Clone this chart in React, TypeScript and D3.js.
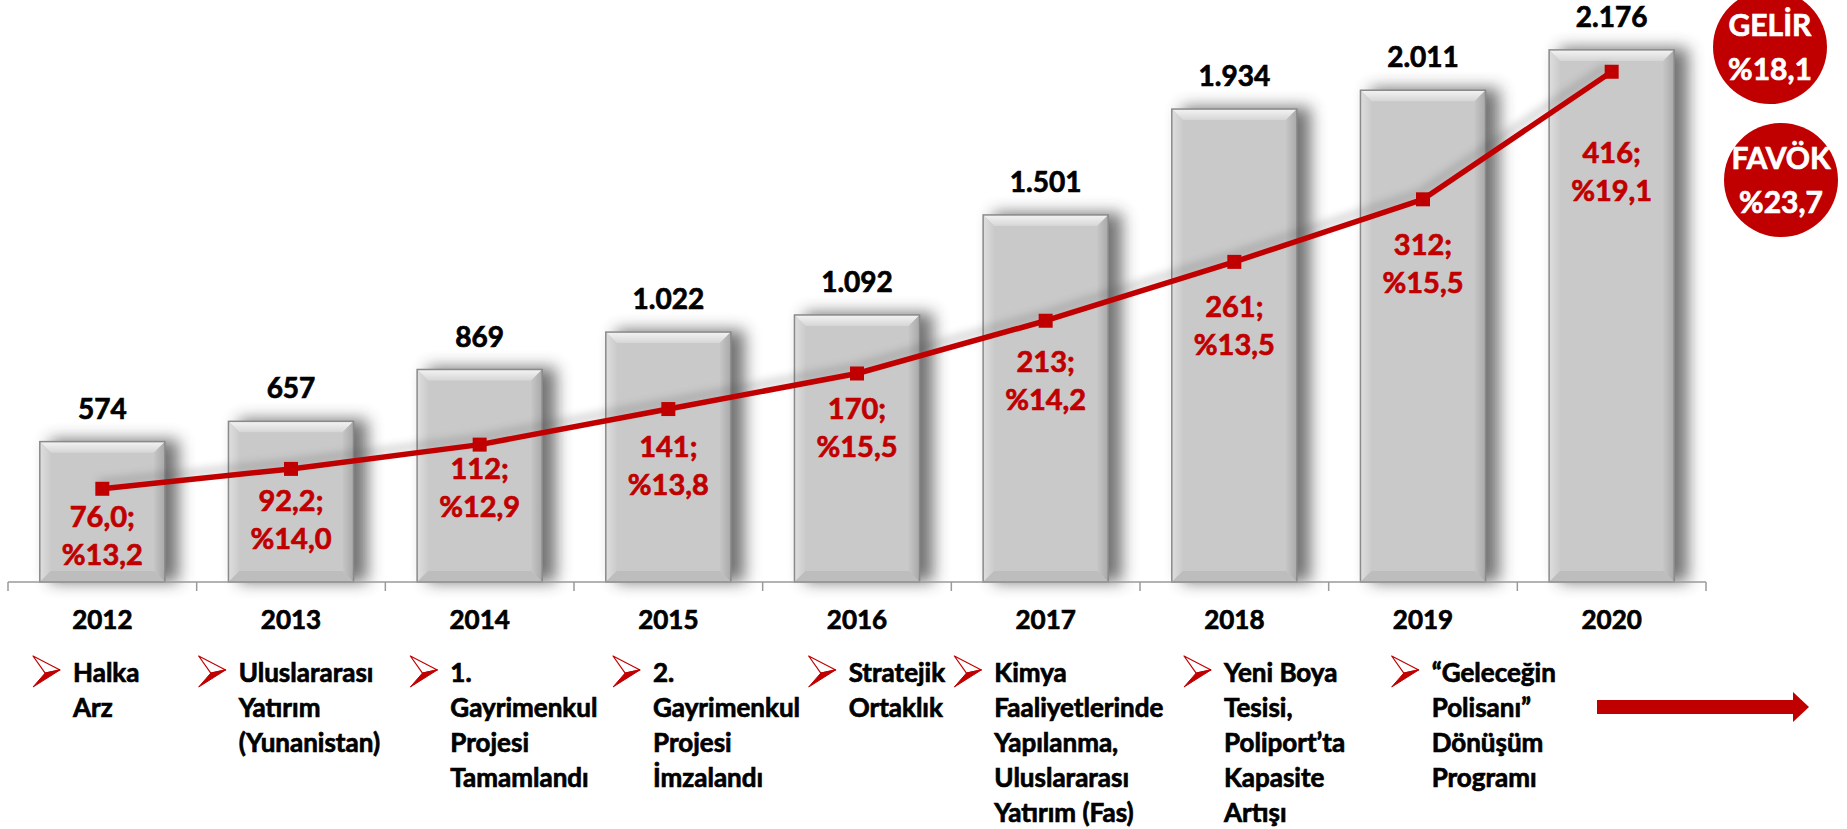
import * as d3 from 'd3';

// chart values
const years = ['2012', '2013', '2014', '2015', '2016', '2017', '2018', '2019', '2020'];
const revenue = [574, 657, 869, 1022, 1092, 1501, 1934, 2011, 2176];
const ebitda = [76.0, 92.2, 112, 141, 170, 213, 261, 312, 416];
const ebitdaMargin = [13.2, 14.0, 12.9, 13.8, 15.5, 14.2, 13.5, 15.5, 19.1];

const events = [
  ['Halka', 'Arz'],
  ['Uluslararası', 'Yatırım', '(Yunanistan)'],
  ['1.', 'Gayrimenkul', 'Projesi', 'Tamamlandı'],
  ['2.', 'Gayrimenkul', 'Projesi', 'İmzalandı'],
  ['Stratejik', 'Ortaklık'],
  ['Kimya', 'Faaliyetlerinde', 'Yapılanma,', 'Uluslararası', 'Yatırım (Fas)'],
  ['Yeni Boya', 'Tesisi,', 'Poliport’ta', 'Kapasite', 'Artışı'],
  ['“Geleceğin', 'Polisanı”', 'Dönüşüm', 'Programı'],
];

const badges = [
  { title: 'GELİR', value: '%18,1' },
  { title: 'FAVÖK', value: '%23,7' },
];

// layout
const W = 1847;
const H = 829;
const axisY = 582;
const RED = '#c00000';
const FONT = 'Lato, "Open Sans", sans-serif';
const WEIGHT = 700;
// label nudges below each marker (hand placed in the original)
const labelDy = [28, 32, 24, 38, 35, 41, 45, 45, 81];
// event text offsets from band start
const eventDx = [25, 2, 25, 39, 46, 3, 44, 63];

const x = d3.scaleBand<string>()
  .domain(years)
  .range([8, 1706])
  .paddingInner(0.337)
  .paddingOuter(0.1685);

const y = d3.scaleLinear().domain([0, 2380]).range([axisY, 0]);
const y2 = d3.scaleLinear().domain([0, 474.5]).range([axisY, 0]);

const cx = (d: string) => (x(d) || 0) + x.bandwidth() / 2;

const fmtEbitda = (v: number) =>
  v < 100 ? d3.format('.1f')(v).replace('.', ',') : d3.format('d')(v);
const fmtPct = (v: number) => '%' + d3.format('.1f')(v).replace('.', ',');
const fmtRev = (v: number) => d3.format(',')(v).replace(/,/g, '.');

// a hair of stroke so Lato Bold reads as heavy as the original's bold face
const heavy = (c: string) => ({ stroke: c, strokeWidth: 0.7, paintOrder: 'stroke' as const });

function Bar({ year, value }: { year: string; value: number }) {
  const x0 = x(year) || 0;
  const w = x.bandwidth();
  const y0 = y(value);
  const y1 = y(0);
  const b = 11;
  return (
    <g>
      <rect x={x0 + 10} y={y0 - 2} width={w + 4} height={y1 - y0 + 2} fill="#3a3a3a" opacity={0.7} filter="url(#soft)" />
      <rect x={x0} y={y0} width={w} height={y1 - y0} fill="#c9c9c9" />
      <polygon points={`${x0},${y0} ${x0 + w},${y0} ${x0 + w - b},${y0 + b} ${x0 + b},${y0 + b}`} fill="url(#bevTop)" />
      <polygon points={`${x0},${y0} ${x0 + b},${y0 + b} ${x0 + b},${y1 - b} ${x0},${y1}`} fill="url(#bevLeft)" />
      <polygon points={`${x0 + w},${y0} ${x0 + w - b},${y0 + b} ${x0 + w - b},${y1 - b} ${x0 + w},${y1}`} fill="url(#bevRight)" />
      <polygon points={`${x0},${y1} ${x0 + b},${y1 - b} ${x0 + w - b},${y1 - b} ${x0 + w},${y1}`} fill="#bdbdbd" />
      <rect x={x0} y={y0} width={w} height={y1 - y0} fill="none" stroke="#8a8a8a" strokeWidth={1.5} />
    </g>
  );
}

function Pointer({ px, py }: { px: number; py: number }) {
  const w = 27;
  const h = 31;
  const tip = [px + w, py + h * 0.45];
  const notch = [px + w * 0.45, py + h * 0.55];
  return (
    <g>
      <polygon points={`${px},${py} ${tip[0]},${tip[1]} ${notch[0]},${notch[1]}`} fill="#fff" stroke={RED} strokeWidth={1.2} strokeLinejoin="round" />
      <polygon points={`${notch[0]},${notch[1]} ${tip[0]},${tip[1]} ${px},${py + h}`} fill={RED} stroke={RED} strokeWidth={1} strokeLinejoin="round" />
    </g>
  );
}

export default function App() {
  const step = x.step();
  const start = x.range()[0];
  const ticks = d3.range(years.length + 1).map(i => start + i * step);

  const line = d3.line<number>()
    .x((_, i) => cx(years[i]))
    .y(d => y2(d));

  return (
    <svg width={W} height={H} style={{ position: 'absolute', left: 0, top: 0, background: '#fff' }} fontFamily={FONT}>
      <defs>
        <filter id="soft" x="-30%" y="-30%" width="160%" height="160%">
          <feGaussianBlur stdDeviation="8" />
        </filter>
        <filter id="lineShadow" x="-10%" y="-30%" width="120%" height="160%">
          <feGaussianBlur stdDeviation="4" />
        </filter>
        <linearGradient id="bevTop" x1="0" y1="0" x2="0" y2="1">
          <stop offset="0%" stopColor="#f4f4f4" />
          <stop offset="100%" stopColor="#d6d6d6" />
        </linearGradient>
        <linearGradient id="bevLeft" x1="0" y1="0" x2="1" y2="0">
          <stop offset="0%" stopColor="#dedede" />
          <stop offset="100%" stopColor="#cbcbcb" />
        </linearGradient>
        <linearGradient id="bevRight" x1="0" y1="0" x2="1" y2="0">
          <stop offset="0%" stopColor="#c6c6c6" />
          <stop offset="100%" stopColor="#a9a9a9" />
        </linearGradient>
      </defs>

      {years.map((yr, i) => <Bar key={yr} year={yr} value={revenue[i]} />)}

      {/* axis */}
      <line x1={start} x2={ticks[ticks.length - 1]} y1={axisY} y2={axisY} stroke="#9a9a9a" strokeWidth={1.5} />
      {ticks.map((t, i) => (
        <line key={i} x1={t} x2={t} y1={axisY} y2={axisY + 9} stroke="#9a9a9a" strokeWidth={1.5} />
      ))}

      {/* revenue labels */}
      {years.map((yr, i) => (
        <text key={yr} x={cx(yr)} y={y(revenue[i]) - 33} dy="0.36em" textAnchor="middle" fontSize={28} fontWeight={WEIGHT} fill="#000" {...heavy('#000')}>
          {fmtRev(revenue[i])}
        </text>
      ))}

      {/* ebitda line */}
      <path d={line(ebitda) || ''} fill="none" stroke="#333" strokeWidth={6} opacity={0.25} transform="translate(-4,-6)" filter="url(#lineShadow)" />
      <path d={line(ebitda) || ''} fill="none" stroke={RED} strokeWidth={5.5} strokeLinejoin="round" />
      {years.map((yr, i) => (
        <rect key={yr} x={cx(yr) - 7} y={y2(ebitda[i]) - 7} width={14} height={14} fill={RED} />
      ))}

      {/* ebitda labels */}
      {years.map((yr, i) => {
        const ly = y2(ebitda[i]) + labelDy[i];
        return (
          <g key={yr} fontSize={29} fontWeight={WEIGHT} fill={RED} textAnchor="middle" {...heavy(RED)}>
            <text x={cx(yr)} y={ly} dy="0.36em">{fmtEbitda(ebitda[i])};</text>
            <text x={cx(yr)} y={ly + 38} dy="0.36em">{fmtPct(ebitdaMargin[i])}</text>
          </g>
        );
      })}

      {/* years */}
      {years.map(yr => (
        <text key={yr} x={cx(yr)} y={620} dy="0.36em" textAnchor="middle" fontSize={26} fontWeight={WEIGHT} fill="#000" {...heavy('#000')}>{yr}</text>
      ))}

      {/* milestones */}
      {events.map((lines, i) => {
        const ax = start + i * step + eventDx[i];
        return (
          <g key={i}>
            <Pointer px={ax} py={656} />
            {lines.map((ln, j) => (
              <text key={j} x={ax + 40} y={673 + j * 35} dy="0.36em" fontSize={26} fontWeight={WEIGHT} fill="#000" {...heavy('#000')}>{ln}</text>
            ))}
          </g>
        );
      })}

      {/* arrow into the future */}
      <polygon points="1597,700 1793,700 1793,692 1809,707 1793,722 1793,714 1597,714" fill={RED} />

      {/* growth badges */}
      {badges.map((bd, i) => {
        const bx = i === 0 ? 1770 : 1781;
        const by = i === 0 ? 47 : 180;
        return (
          <g key={bd.title} fill="#fff" fontWeight={WEIGHT} fontSize={30} textAnchor="middle">
            <circle cx={bx} cy={by} r={57} fill={RED} />
            <text x={bx} y={by - 22} dy="0.36em" {...heavy('#fff')}>{bd.title}</text>
            <text x={bx} y={by + 22} dy="0.36em" {...heavy('#fff')}>{bd.value}</text>
          </g>
        );
      })}
    </svg>
  );
}
